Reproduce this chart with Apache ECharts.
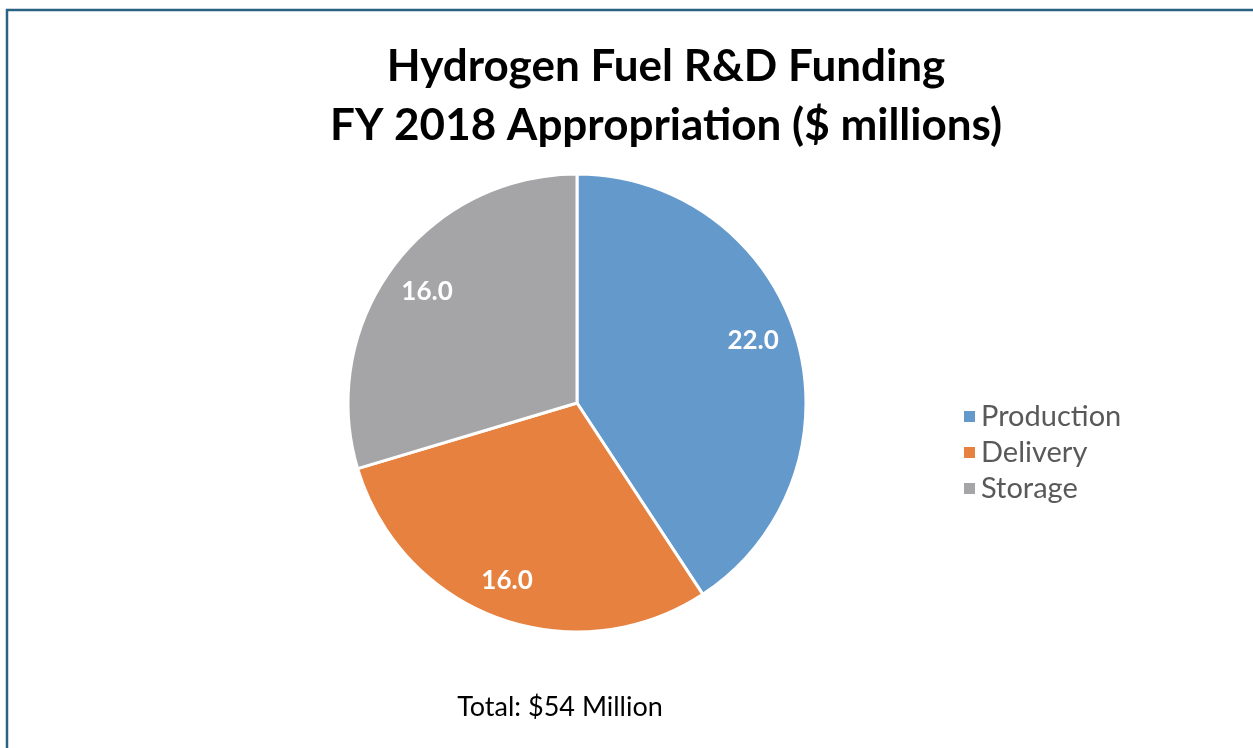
<!DOCTYPE html>
<html>
<head>
<meta charset="utf-8">
<script src="https://cdn.jsdelivr.net/npm/echarts@6/dist/echarts.min.js"></script>
<style>
  html, body { margin: 0; padding: 0; background: #fff; }
  #chart { width: 1253px; height: 748px; }
</style>
</head>
<body>
<div id="chart"></div>
<script>
// funding by area, $ millions
var categories = ["Production", "Delivery", "Storage"];
var funding = [22.0, 16.0, 16.0];
var colors = ["#6399cb", "#e68140", "#a5a5a8"];

var titleText = "Hydrogen Fuel R&D Funding\nFY 2018 Appropriation ($ millions)";
var footText = "Total: $54 Million";

var chart = echarts.init(document.getElementById("chart"));

var pieData = categories.map(function (name, i) {
  return { name: name, value: funding[i], itemStyle: { color: colors[i] } };
});

// value labels sit a bit off the slice mid-angle, like excel's best fit
var labelData = categories.map(function (name, i) {
  return { name: name, value: funding[i] };
});
labelData[0].label = { offset: [-3, -9] };
labelData[1].label = { offset: [-6, 2] };

var option = {
  animation: false,
  backgroundColor: "#fff",
  title: [
    {
      text: titleText,
      left: 666,
      top: 37,
      padding: 0,
      textAlign: "center",
      textStyle: {
        fontFamily: "Lato",
        fontWeight: "bold",
        fontSize: 44,
        lineHeight: 59,
        color: "#000"
      }
    },
    {
      text: footText,
      left: 560,
      top: 694,
      padding: 0,
      textAlign: "center",
      textStyle: {
        fontFamily: "Lato",
        fontWeight: "normal",
        fontSize: 27,
        color: "#000"
      }
    }
  ],
  legend: {
    orient: "vertical",
    left: 957,
    top: 397,
    icon: "rect",
    itemWidth: 13,
    itemHeight: 13,
    itemGap: 7,
    data: categories,
    textStyle: {
      fontFamily: "Lato",
      fontSize: 29,
      color: "#595959",
      padding: [0, 0, 0, 0]
    }
  },
  graphic: [
    {
      type: "polyline",
      shape: { points: [[7, 760], [7, 10], [1260, 10]] },
      style: { stroke: "#2a6382", lineWidth: 2.5, fill: null },
      silent: true
    }
  ],
  series: [
    {
      type: "pie",
      center: [577, 403],
      radius: 229,
      startAngle: 90,
      clockwise: true,
      label: { show: false },
      labelLine: { show: false },
      itemStyle: { borderColor: "#fff", borderWidth: 3 },
      emphasis: { disabled: true },
      data: pieData
    },
    {
      // only carries the value labels, placed out toward the rim
      type: "pie",
      center: [577, 403],
      radius: [139, 229],
      startAngle: 90,
      clockwise: true,
      silent: true,
      itemStyle: { color: "rgba(0,0,0,0)", borderWidth: 0 },
      label: {
        show: true,
        position: "inside",
        formatter: function (p) { return p.value.toFixed(1); },
        fontFamily: "Lato",
        fontWeight: "bold",
        fontSize: 26,
        color: "#fff"
      },
      labelLine: { show: false },
      emphasis: { disabled: true },
      data: labelData
    }
  ]
};

chart.setOption(option);
</script>
</body>
</html>
